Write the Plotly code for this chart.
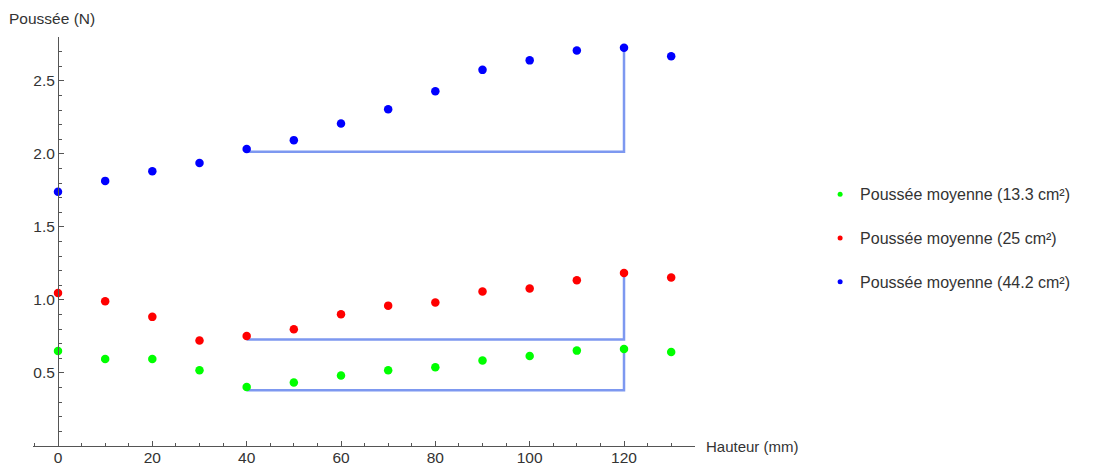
import plotly.graph_objects as go

# ---- data ----
hauteur = [0, 10, 20, 30, 40, 50, 60, 70, 80, 90, 100, 110, 120, 130]
poussee_13_3 = [0.651, 0.596, 0.596, 0.518, 0.404, 0.434, 0.482, 0.518, 0.539, 0.585, 0.616, 0.653, 0.664, 0.644]
poussee_25 = [1.048, 0.991, 0.884, 0.722, 0.753, 0.799, 0.902, 0.961, 0.982, 1.057, 1.078, 1.135, 1.185, 1.153]
poussee_44_2 = [1.740, 1.815, 1.881, 1.938, 2.034, 2.094, 2.208, 2.306, 2.429, 2.575, 2.640, 2.708, 2.726, 2.669]

series_names = ["Poussée moyenne (13.3 cm²)", "Poussée moyenne (25 cm²)", "Poussée moyenne (44.2 cm²)"]
series_values = [poussee_13_3, poussee_25, poussee_44_2]
series_colors = ["#00ff00", "#ff0000", "#0000ff"]

# bracket guides: horizontal level from x_start to x_end, then up to the series value at x_end
bracket_x_start = 40
bracket_x_end = 120
bracket_levels = [0.381, 0.729, 2.014]

x_ticks = [0, 20, 40, 60, 80, 100, 120]
y_ticks = [0.5, 1.0, 1.5, 2.0, 2.5]
x_range = [-5.3, 135.05]
y_range = [0, 2.8]

FONT = "Liberation Sans, Arial, sans-serif"
TXT = "#333333"
AX = "#555555"
BRACKET = "rgb(125,152,240)"

fig = go.Figure()

for vals, lvl in zip(series_values, bracket_levels):
    top = vals[hauteur.index(bracket_x_end)]
    fig.add_trace(go.Scatter(
        x=[bracket_x_start, bracket_x_end, bracket_x_end],
        y=[lvl, lvl, top],
        mode="lines", line=dict(color=BRACKET, width=2.5),
        showlegend=False, hoverinfo="skip"))

for name, vals, col in zip(series_names, series_values, series_colors):
    fig.add_trace(go.Scatter(
        x=hauteur, y=vals, mode="markers", name=name,
        marker=dict(color=col, size=8.5), showlegend=False))
    # legend entry with a small dot
    fig.add_trace(go.Scatter(
        x=[None], y=[None], mode="markers", name=name,
        marker=dict(color=col, size=5), legendgroup=name, showlegend=True))

ypos = (0 - x_range[0]) / (x_range[1] - x_range[0])

fig.update_layout(
    width=1108, height=466,
    margin=dict(l=33, r=413, t=37, b=20),
    paper_bgcolor="white", plot_bgcolor="white",
    font=dict(family=FONT, size=15, color=TXT),
    xaxis=dict(
        range=x_range, tickvals=x_ticks, showgrid=False, zeroline=False,
        showline=True, linecolor=AX, linewidth=1,
        ticks="inside", ticklen=5, tickcolor=AX, tickwidth=1,
        minor=dict(dtick=5, tick0=0, ticks="inside", ticklen=3, tickcolor=AX, showgrid=False),
        tickfont=dict(family=FONT, size=15.5, color=TXT), ticklabelstandoff=-3,
        automargin=False),
    yaxis=dict(
        range=y_range, tickvals=y_ticks, ticktext=[f"{v:.1f}" for v in y_ticks],
        showgrid=False, zeroline=False,
        anchor="free", position=ypos,
        showline=True, linecolor=AX, linewidth=1,
        ticks="inside", ticklen=5, tickcolor=AX, tickwidth=1,
        minor=dict(dtick=0.1, tick0=0, ticks="inside", ticklen=3, tickcolor=AX, showgrid=False),
        tickfont=dict(family=FONT, size=15.5, color=TXT), automargin=False),
    legend=dict(
        x=1.189, xanchor="left", y=0.657, yanchor="top",
        font=dict(family=FONT, size=16, color=TXT),
        tracegroupgap=20, bgcolor="rgba(0,0,0,0)"),
    annotations=[
        dict(text="Poussée (N)", xref="paper", yref="paper", x=-0.038, y=1.0,
             xshift=-1, yshift=19, xanchor="left", yanchor="middle", showarrow=False,
             font=dict(family=FONT, size=15.5, color=TXT)),
        dict(text="Hauteur (mm)", xref="paper", yref="paper", x=1.0, y=0,
             xshift=9, xanchor="left", yanchor="middle", showarrow=False,
             font=dict(family=FONT, size=15, color=TXT)),
    ],
)

fig.write_html("out.html")
